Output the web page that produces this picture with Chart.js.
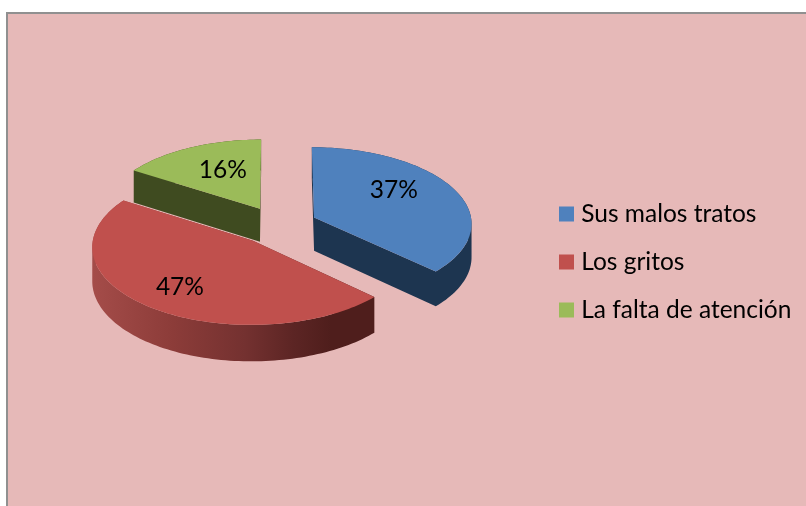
<!DOCTYPE html>
<html>
<head>
<meta charset="utf-8">
<style>
html,body{margin:0;padding:0;background:#fff;}
canvas{display:block;}
</style>
<script src="https://cdn.jsdelivr.net/npm/chart.js@4"></script>
</head>
<body>
<canvas id="c" width="806" height="506"></canvas>
<script>
const categories = ["Sus malos tratos", "Los gritos", "La falta de atención"];
const shares = [37, 47, 16];
const topColors = ["#4f81bd", "#c0504d", "#9bbb59"];
const sideColors = ["#1d3550", null, "#3f4b20"];
const sliceOffsets = [39, 41, 39];
const drawOrder = [2, 0, 1];
const labelRadius = [0.645, 0.71, 0.6];
const labelTurnDeg = [-11.9, -0.3, 4];

const PINK = "#e6b9b8", FRAME = "#909090", FONT = "Lato, Carlito, sans-serif", FONT_SIZE = 24.5;
const HORIZON = -892, FOCAL = 2320, DEPTH = 33.5;

function project(a, u, v, h) {
  const s = FOCAL / (FOCAL - v);
  return { x: a.x + u * s, y: HORIZON + (a.y - HORIZON) * s + (h || 0) * s };
}

function redSide(ctx) {
  const g = ctx.createLinearGradient(87, 0, 374, 0);
  g.addColorStop(0, "#a64d4a");
  g.addColorStop(0.3, "#8c3c39");
  g.addColorStop(0.55, "#743130");
  g.addColorStop(0.72, "#5c2524");
  g.addColorStop(0.85, "#4f1e1c");
  g.addColorStop(1, "#4f1e1c");
  return g;
}

const pie3d = {
  id: "pie3d",
  beforeDraw(chart) {
    const { ctx, width, height } = chart;
    ctx.save();
    ctx.fillStyle = "#fff";
    ctx.fillRect(0, 0, width, height);
    ctx.fillStyle = FRAME;
    ctx.fillRect(6, 12, width - 6, height - 12);
    ctx.fillStyle = PINK;
    ctx.fillRect(8, 14, width - 8, height - 14);
    ctx.restore();
  },
  afterLayout(chart) {
    const lg = chart.legend;
    const pad = lg.options.labels.padding;
    lg.left = 564 - pad;
    lg.right = 806;
    lg.top = 201.75 - pad;
    lg.bottom = 506;
  },
  beforeDatasetDraw(chart, args) {
    const { ctx } = chart;
    const arcs = chart.getDatasetMeta(args.index).data;
    ctx.save();
    drawOrder.forEach(i => {
      const a = arcs[i];
      const mid = (a.startAngle + a.endAngle) / 2;
      const off = a.options.offset;
      const ox = off * Math.cos(mid), oy = off * Math.sin(mid);
      const outline = [[ox, oy]];
      const steps = Math.ceil((a.endAngle - a.startAngle) / (Math.PI / 120));
      for (let k = 0; k <= steps; k++) {
        const t = a.startAngle + (a.endAngle - a.startAngle) * k / steps;
        outline.push([ox + a.outerRadius * Math.cos(t), oy + a.outerRadius * Math.sin(t)]);
      }
      // sides: one path of consistently wound quads, so no seams appear
      ctx.beginPath();
      for (let k = 0; k < outline.length; k++) {
        const p = outline[k], q = outline[(k + 1) % outline.length];
        const pts = [
          project(a, p[0], p[1]), project(a, q[0], q[1]),
          project(a, q[0], q[1], DEPTH), project(a, p[0], p[1], DEPTH)
        ];
        let area = 0;
        pts.forEach((m, n) => {
          const w = pts[(n + 1) % 4];
          area += m.x * w.y - w.x * m.y;
        });
        if (area < 0) pts.reverse();
        pts.forEach((m, n) => { if (n) ctx.lineTo(m.x, m.y); else ctx.moveTo(m.x, m.y); });
        ctx.closePath();
      }
      ctx.fillStyle = sideColors[i] || redSide(ctx);
      ctx.fill();
      ctx.beginPath();
      outline.forEach((p, k) => {
        const s = project(a, p[0], p[1]);
        if (k) ctx.lineTo(s.x, s.y); else ctx.moveTo(s.x, s.y);
      });
      ctx.closePath();
      ctx.fillStyle = topColors[i];
      ctx.fill();
    });
    ctx.fillStyle = "#000";
    ctx.font = FONT_SIZE + "px " + FONT;
    ctx.textAlign = "center";
    ctx.textBaseline = "middle";
    arcs.forEach((a, i) => {
      const mid = (a.startAngle + a.endAngle) / 2;
      const t = mid + labelTurnDeg[i] * Math.PI / 180;
      const r = a.outerRadius * labelRadius[i];
      const off = a.options.offset;
      const p = project(a, off * Math.cos(mid) + r * Math.cos(t), off * Math.sin(mid) + r * Math.sin(t));
      ctx.fillText(shares[i] + "%", p.x, p.y);
    });
    ctx.restore();
    return false;
  }
};

new Chart(document.getElementById("c"), {
  type: "pie",
  data: {
    labels: categories,
    datasets: [{ data: shares, backgroundColor: topColors, borderWidth: 0, offset: sliceOffsets }]
  },
  options: {
    responsive: false,
    animation: false,
    radius: 158,
    layout: { padding: { left: 0, top: 0, right: 249, bottom: 56 } },
    plugins: {
      tooltip: { enabled: false },
      legend: {
        position: "chartArea",
        align: "start",
        labels: {
          usePointStyle: true,
          pointStyle: "rect",
          boxWidth: 5,
          boxHeight: 15,
          padding: 23.5,
          color: "#000",
          font: { family: FONT, size: FONT_SIZE }
        }
      }
    }
  },
  plugins: [pie3d]
});
</script>
</body>
</html>
